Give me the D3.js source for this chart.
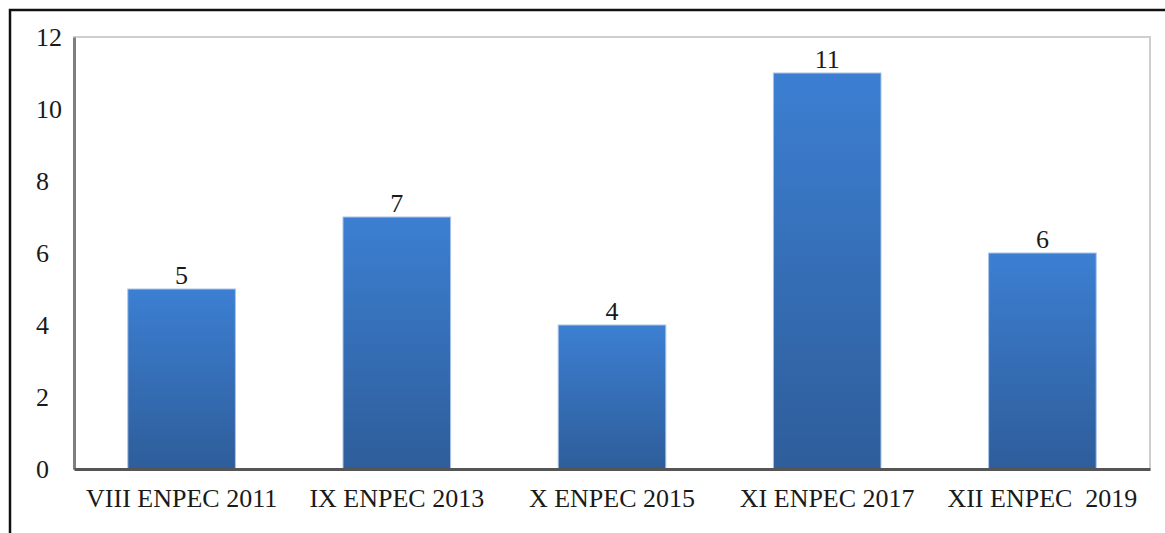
<!DOCTYPE html>
<html>
<head>
<meta charset="utf-8">
<script src="https://cdn.jsdelivr.net/npm/d3@7"></script>
<style>
  body { margin: 0; background: #fff; }
  text { font-family: "Liberation Serif", "Times New Roman", serif; fill: #1a1a1a; }
</style>
</head>
<body>
<div id="chart"></div>
<script>
// data
var categories = ["VIII ENPEC 2011", "IX ENPEC 2013", "X ENPEC 2015", "XI ENPEC 2017", "XII ENPEC  2019"];
var values = [5, 7, 4, 11, 6];
var yTicks = [0, 2, 4, 6, 8, 10, 12];

var svgWidth = 1165;
var svgHeight = 533;
var margin = { top: 37, right: 15, bottom: 64, left: 74 };
var chartWidth = svgWidth - margin.left - margin.right;
var chartHeight = svgHeight - margin.top - margin.bottom;

var svg = d3.select("#chart")
    .append("svg")
    .attr("width", svgWidth)
    .attr("height", svgHeight);

// gradient for bars (each bar light at top, darker at bottom)
var grad = svg.append("defs").append("linearGradient")
    .attr("id", "barGrad")
    .attr("x1", 0).attr("y1", 0)
    .attr("x2", 0).attr("y2", 1);
grad.append("stop").attr("offset", "0%").attr("stop-color", "#3c7fd2");
grad.append("stop").attr("offset", "100%").attr("stop-color", "#2e5d9a");

// outer frame (top + left only visible)
svg.append("path")
    .attr("d", "M10,533 V10 H1165")
    .attr("fill", "none")
    .attr("stroke", "#111")
    .attr("stroke-width", 2.5);

var chartGroup = svg.append("g")
    .attr("transform", `translate(${margin.left}, ${margin.top})`);

var xScale = d3.scaleBand()
    .domain(categories)
    .range([0, chartWidth])
    .paddingInner(0.5)
    .paddingOuter(0.25);

var yScale = d3.scaleLinear()
    .domain([0, 12])
    .range([chartHeight, 0]);

// plot area border
chartGroup.append("rect")
    .attr("x", 0).attr("y", 0)
    .attr("width", chartWidth).attr("height", chartHeight)
    .attr("fill", "none")
    .attr("stroke", "#cfcfcf")
    .attr("stroke-width", 2);

// bars
chartGroup.selectAll(".bar")
    .data(values)
    .enter()
    .append("rect")
    .attr("class", "bar")
    .attr("x", (d, i) => xScale(categories[i]))
    .attr("y", d => yScale(d))
    .attr("width", xScale.bandwidth())
    .attr("height", d => chartHeight - yScale(d))
    .attr("fill", "url(#barGrad)")
    .attr("stroke", "#a9c4e8")
    .attr("stroke-width", 1);

// value labels
chartGroup.selectAll(".vlabel")
    .data(values)
    .enter()
    .append("text")
    .attr("class", "vlabel")
    .attr("x", (d, i) => xScale(categories[i]) + xScale.bandwidth() / 2)
    .attr("y", d => yScale(d) - 5)
    .attr("text-anchor", "middle")
    .attr("font-size", 26)
    .text(d => d);

// axes
var leftAxis = d3.axisLeft(yScale).tickValues(yTicks).tickSize(0).tickPadding(0);
var bottomAxis = d3.axisBottom(xScale).tickSize(0).tickPadding(20);

var yAxisG = chartGroup.append("g").call(leftAxis);
yAxisG.select(".domain").attr("stroke", "#7f7f7f").attr("stroke-width", 3);
yAxisG.selectAll("text")
    .attr("x", -38)
    .attr("text-anchor", "start")
    .attr("font-size", 26)
    .attr("fill", "#1a1a1a");

var xAxisG = chartGroup.append("g")
    .attr("transform", `translate(0, ${chartHeight})`)
    .call(bottomAxis);
xAxisG.select(".domain").attr("stroke", "#555").attr("stroke-width", 3);
xAxisG.selectAll("text")
    .attr("font-size", 26)
    .attr("fill", "#1a1a1a")
    .style("white-space", "pre");
</script>
</body>
</html>
